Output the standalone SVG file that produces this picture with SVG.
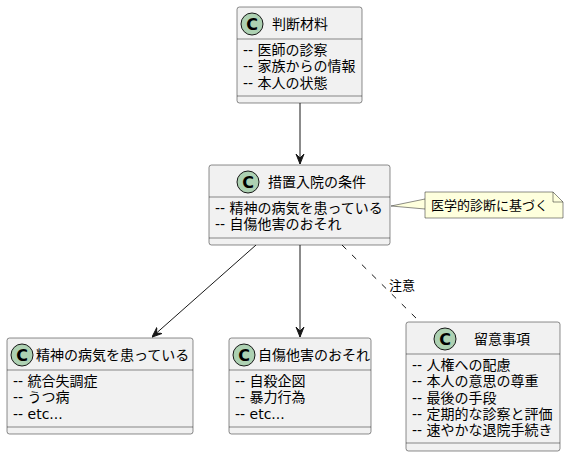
<svg xmlns="http://www.w3.org/2000/svg" width="569" height="457" viewBox="0 0 569 457">
<style>
.box{fill:#F1F1F1;stroke:#181818;stroke-width:0.5}
.sep{stroke:#181818;stroke-width:0.5}
.circ{fill:#ADD1B2;stroke:#181818;stroke-width:1}
.c{font-family:"DejaVu Sans","Noto Sans CJK JP",sans-serif;font-weight:bold;font-size:16px;fill:#000}
.t{font-family:"DejaVu Sans","Noto Sans CJK JP",sans-serif;font-size:14px;fill:#000}
.n{font-family:"DejaVu Sans","Noto Sans CJK JP",sans-serif;font-size:13px;fill:#000}
.edge{stroke:#181818;stroke-width:1;fill:none}
</style>
<defs>
<marker id="arr" viewBox="0 0 10 10" refX="10" refY="5" markerWidth="10" markerHeight="10" markerUnits="userSpaceOnUse" orient="auto">
<path d="M0,1 L10,5 L0,9 L4,5 z" fill="#181818" stroke="#181818" stroke-width="1"/>
</marker>
</defs>
<g id="connectors">
<line class="edge" x1="300" y1="103" x2="300" y2="164" marker-end="url(#arr)"/>
<line class="edge" x1="256" y1="245" x2="152" y2="337" marker-end="url(#arr)"/>
<line class="edge" x1="300" y1="245" x2="300" y2="337" marker-end="url(#arr)"/>
<line class="edge" x1="342" y1="245" x2="420" y2="322" stroke-dasharray="6,8"/>
<text class="n" x="389" y="290">注意</text>
<path d="M425,199 L391,206 L425,209" fill="#FEFFDD" stroke="#181818" stroke-width="0.5"/>
</g>
<g id="n_hantei">
<rect class="box" x="237" y="7" width="125" height="96" rx="2.5"/>
<ellipse class="circ" cx="252" cy="24" rx="11" ry="11"/>
<text class="c" x="252" y="30" text-anchor="middle">C</text>
<text class="t" x="272" y="29">判断材料</text>
<line class="sep" x1="237" y1="39" x2="362" y2="39"/>
<text class="t" x="243" y="55">-- 医師の診察</text>
<text class="t" x="243" y="71">-- 家族からの情報</text>
<text class="t" x="243" y="88">-- 本人の状態</text>
<line class="sep" x1="237" y1="96" x2="362" y2="96"/>
</g>
<g id="n_sochi">
<rect class="box" x="209" y="165" width="181" height="80" rx="2.5"/>
<ellipse class="circ" cx="248" cy="182" rx="11" ry="11"/>
<text class="c" x="248" y="188" text-anchor="middle">C</text>
<text class="t" x="268" y="187">措置入院の条件</text>
<line class="sep" x1="209" y1="197" x2="390" y2="197"/>
<text class="t" x="215" y="213">-- 精神の病気を患っている</text>
<text class="t" x="215" y="229">-- 自傷他害のおそれ</text>
<line class="sep" x1="209" y1="238" x2="390" y2="238"/>
</g>
<g id="n_note">
<path d="M425,192 L553,192 L563,202 L563,218 L425,218 Z" fill="#FEFFDD" stroke="#181818" stroke-width="0.5"/>
<path d="M553,192 L553,202 L563,202" fill="none" stroke="#181818" stroke-width="0.5"/>
<text class="n" x="431" y="210">医学的診断に基づく</text>
</g>
<g id="n_seishin">
<rect class="box" x="7" y="338" width="186" height="96" rx="2.5"/>
<ellipse class="circ" cx="22" cy="355" rx="11" ry="11"/>
<text class="c" x="22" y="361" text-anchor="middle">C</text>
<text class="t" x="36" y="360">精神の病気を患っている</text>
<line class="sep" x1="7" y1="370" x2="193" y2="370"/>
<text class="t" x="13" y="386">-- 統合失調症</text>
<text class="t" x="13" y="402">-- うつ病</text>
<text class="t" x="13" y="419">-- etc...</text>
<line class="sep" x1="7" y1="427" x2="193" y2="427"/>
</g>
<g id="n_jisho">
<rect class="box" x="229" y="338" width="142" height="96" rx="2.5"/>
<ellipse class="circ" cx="244" cy="355" rx="11" ry="11"/>
<text class="c" x="244" y="361" text-anchor="middle">C</text>
<text class="t" x="258" y="360">自傷他害のおそれ</text>
<line class="sep" x1="229" y1="370" x2="371" y2="370"/>
<text class="t" x="235" y="386">-- 自殺企図</text>
<text class="t" x="235" y="402">-- 暴力行為</text>
<text class="t" x="235" y="419">-- etc...</text>
<line class="sep" x1="229" y1="427" x2="371" y2="427"/>
</g>
<g id="n_ryui">
<rect class="box" x="406" y="322" width="154" height="129" rx="2.5"/>
<ellipse class="circ" cx="445" cy="339" rx="11" ry="11"/>
<text class="c" x="445" y="345" text-anchor="middle">C</text>
<text class="t" x="474" y="344">留意事項</text>
<line class="sep" x1="406" y1="354" x2="560" y2="354"/>
<text class="t" x="412" y="370">-- 人権への配慮</text>
<text class="t" x="412" y="386">-- 本人の意思の尊重</text>
<text class="t" x="412" y="403">-- 最後の手段</text>
<text class="t" x="412" y="419">-- 定期的な診察と評価</text>
<text class="t" x="412" y="435">-- 速やかな退院手続き</text>
<line class="sep" x1="406" y1="443" x2="560" y2="443"/>
</g>
</svg>
